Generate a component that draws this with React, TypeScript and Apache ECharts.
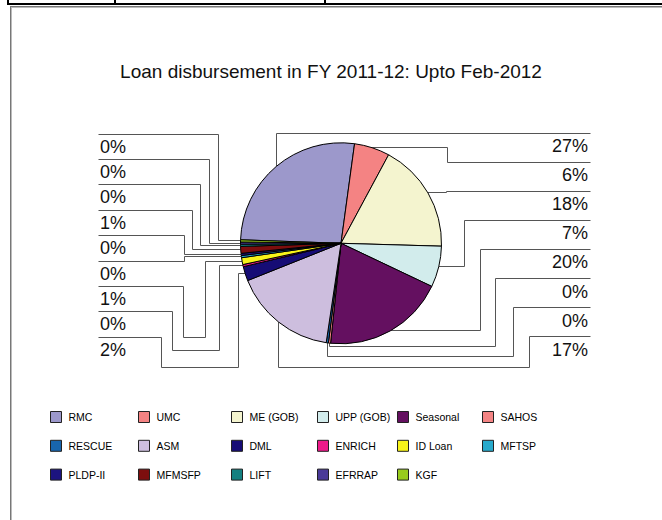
import React, { useEffect, useRef } from "react";
import * as echarts from "echarts";

// ---------- data ----------
const TITLE = "Loan disbursement in FY 2011-12: Upto Feb-2012";
const CATEGORIES = [
  "RMC", "UMC", "ME (GOB)", "UPP (GOB)", "Seasonal", "SAHOS", "RESCUE", "ASM",
  "DML", "ENRICH", "ID Loan", "MFTSP", "PLDP-II", "MFMSFP", "LIFT", "EFRRAP", "KGF",
];
// share of disbursement (%)
const SHARES = [
  26.6, 5.7, 17.6, 6.6, 19.6, 0.35, 0.35, 16.6,
  2.3, 0.35, 1.1, 0.35, 0.35, 1.1, 0.35, 0.35, 0.35,
];
const LEGEND_COLUMNS = [
  ["RMC", "RESCUE", "PLDP-II"],
  ["UMC", "ASM", "MFMSFP"],
  ["ME (GOB)", "DML", "LIFT"],
  ["UPP (GOB)", "ENRICH", "EFRRAP"],
  ["Seasonal", "ID Loan", "KGF"],
  ["SAHOS", "MFTSP"],
];

// ---------- styles / layout ----------
const COLORS = [
  "#9c98cb", "#f48383", "#f4f4cf", "#d2ecec", "#641060", "#f48484", "#1866ae", "#cdbede",
  "#160c75", "#ee1a8a", "#f8f41a", "#28aacc", "#1c1480", "#7d0e0e", "#148080", "#4a3a98", "#98cc1c",
];
const FONT = "Liberation Sans, Arial, sans-serif";
const CX = 341;
const CY = 243.3;
const RADIUS = 100.5;
const RIGHT_COUNT = 8;
const RIGHT_TEXT_X = 588;
const RIGHT_LINE_END = 590.5;
const RIGHT_ELBOW = [null, 447, 446, 464, 480, 495, 513, 529];
const RIGHT_LOW = [null, null, null, null, null, 346, 356, 367];
const LEFT_TEXT_X = 100;
const LEFT_LINE_END = 98.5;
const LEFT_ELBOW = [218, 209, 200, 192, 184, 184, 183, 172, 161];
const LEFT_LOW = [null, null, null, null, null, null, 337, 350, 367];
const LEFT_RISER = [null, null, null, null, null, null, 205, 219, 238];
const LEGEND_X = [50, 138, 231, 317, 397, 482];

const h = (v: number) => Math.round(v - 0.5) + 0.5;

export default function App() {
  const ref = useRef<HTMLDivElement>(null);

  useEffect(() => {
    if (!ref.current) return;
    const chart = echarts.init(ref.current, undefined, { renderer: "svg" });
    const total = SHARES.reduce((s, v) => s + v, 0);

    const legends = LEGEND_COLUMNS.map((col, k) => ({
      data: col,
      orient: "vertical",
      left: LEGEND_X[k],
      top: 411,
      padding: 0,
      itemWidth: 11,
      itemHeight: 11,
      itemGap: 16.8,
      icon: "rect",
      selectedMode: false,
      itemStyle: { borderColor: "#222", borderWidth: 1 },
      textStyle: { fontSize: 10.5, color: "#000", fontFamily: FONT, padding: [0, 0, 0, 2] },
    }));

    const option: any = {
      animation: false,
      backgroundColor: "#fff",
      color: COLORS,
      title: {
        text: TITLE,
        left: "center",
        top: 62,
        padding: 0,
        textStyle: { fontSize: 19, fontWeight: "normal", color: "#111", fontFamily: FONT },
      },
      legend: legends,
      graphic: [
        { type: "rect", shape: { x: 7, y: 3, width: 655, height: 2 }, style: { fill: "#000" } },
        { type: "rect", shape: { x: 7, y: 0, width: 2, height: 4 }, style: { fill: "#000" } },
        { type: "rect", shape: { x: 114, y: 0, width: 2, height: 4 }, style: { fill: "#000" } },
        { type: "rect", shape: { x: 324, y: 0, width: 2, height: 4 }, style: { fill: "#000" } },
        { type: "line", shape: { x1: 10, y1: 6.5, x2: 662, y2: 6.5 }, style: { stroke: "#777", lineWidth: 1 } },
        { type: "line", shape: { x1: 11, y1: 7.5, x2: 662, y2: 7.5 }, style: { stroke: "#bbb", lineWidth: 1 } },
        { type: "line", shape: { x1: 10.5, y1: 6, x2: 10.5, y2: 520 }, style: { stroke: "#777", lineWidth: 1 } },
        { type: "line", shape: { x1: 11.5, y1: 7, x2: 11.5, y2: 520 }, style: { stroke: "#bbb", lineWidth: 1 } },
      ],
      series: [
        {
          type: "pie",
          center: [CX, CY],
          radius: RADIUS,
          startAngle: 178,
          clockwise: true,
          avoidLabelOverlap: false,
          silent: true,
          data: CATEGORIES.map((name, i) => ({ name, value: SHARES[i] })),
          itemStyle: { borderColor: "#000", borderWidth: 1 },
          label: {
            show: true,
            position: "outside",
            fontSize: 18,
            color: "#111",
            fontFamily: FONT,
            formatter: (p: any) => Math.round((p.value / total) * 100) + "%",
          },
          labelLine: { show: true, length: 10, length2: 10, lineStyle: { color: "#555", width: 1 } },
          labelLayout: (p: any) => {
            const i = p.dataIndex;
            const pt = p.labelLinePoints ? p.labelLinePoints[0] : [CX, CY];
            const a = [pt[0], h(pt[1])];
            if (i < RIGHT_COUNT) {
              const ty = 146 + i * 29.1;
              const ly = h(ty - 13);
              const ex = RIGHT_ELBOW[i];
              const low = RIGHT_LOW[i];
              let pts: number[][];
              if (ex == null) {
                const ax = h(a[0]);
                pts = [[ax, pt[1]], [ax, ly], [RIGHT_LINE_END, ly]];
              } else if (low == null) {
                pts = [a, [h(ex), a[1]], [h(ex), ly], [RIGHT_LINE_END, ly]];
              } else {
                const ax = h(a[0]);
                pts = [[ax, pt[1]], [ax, h(low)], [h(ex), h(low)], [h(ex), ly], [RIGHT_LINE_END, ly]];
              }
              return { x: RIGHT_TEXT_X, y: ty, align: "right", verticalAlign: "middle", labelLinePoints: pts };
            }
            const row = CATEGORIES.length - 1 - i;
            const ty = 146.5 + row * 25.4;
            const ly = h(ty - 12.5);
            const ex = h(LEFT_ELBOW[row]);
            const low = LEFT_LOW[row];
            let pts: number[][];
            if (low == null) {
              pts = [a, [ex, a[1]], [ex, ly], [LEFT_LINE_END, ly]];
            } else {
              const rx = h(LEFT_RISER[row] as number);
              pts = [a, [rx, a[1]], [rx, h(low)], [ex, h(low)], [ex, ly], [LEFT_LINE_END, ly]];
            }
            return { x: LEFT_TEXT_X, y: ty, align: "left", verticalAlign: "middle", labelLinePoints: pts };
          },
        },
      ],
    };
    chart.setOption(option);
    return () => chart.dispose();
  }, []);

  return (
    <div
      ref={ref}
      style={{ position: "absolute", left: 0, top: 0, width: 662, height: 520, background: "#fff" }}
    />
  );
}
